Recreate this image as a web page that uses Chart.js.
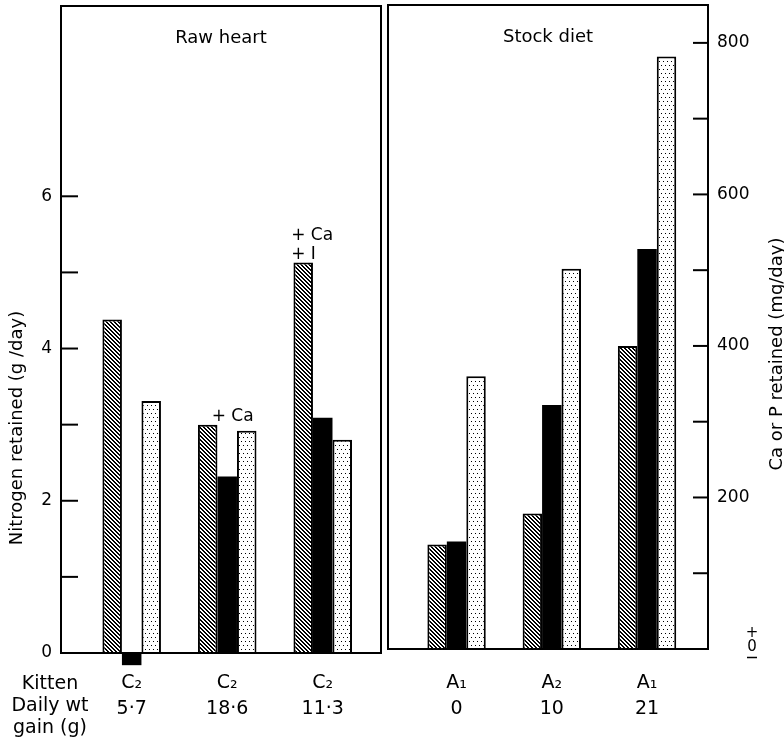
<!DOCTYPE html>
<html><head><meta charset="utf-8">
<script src="https://cdn.jsdelivr.net/npm/chart.js@4.4.1/dist/chart.umd.min.js"></script>
<style>
html,body{margin:0;padding:0;background:#fff;}
#wrap{position:relative;width:784px;height:739px;}
canvas{position:absolute;left:0;top:0;}
</style></head><body>
<div id="wrap"><canvas id="c1" width="784" height="739"></canvas><canvas id="c2" width="784" height="739"></canvas></div>
<script>
// ---- data ----
const panelTitles = ['Raw heart', 'Stock diet'];
const kittenLeft = ['C₂', 'C₂', 'C₂'];
const gainLeft = ['5·7', '18·6', '11·3'];
const kittenRight = ['A₁', 'A₂', 'A₁'];
const gainRight = ['0', '10', '21'];
const rowLabels = ['Kitten', 'Daily wt', 'gain (g)'];
// Nitrogen retained (g/day) - hatched bars
const nitrogenLeft = [4.38, 3.0, 5.13];
const nitrogenRight = [1.38, 1.79, 4.0];
// Ca retained (mg/day) - black bars
const calciumLeft = [-16, 232, 309];
const calciumRight = [142, 322, 528];
// P retained (mg/day) - dotted bars
const phosphorusLeft = [331, 292, 280];
const phosphorusRight = [360, 502, 782];
// axis ticks
const nTickValues = [0, 1, 2, 3, 4, 5, 6];
const nTickLabels = ['0', '', '2', '', '4', '', '6'];
const mgTickValues = [100, 200, 300, 400, 500, 600, 700, 800];
const mgTickLabels = ['', '200', '', '400', '', '600', '', '800'];
const axisTitles = ['Nitrogen retained (g /day)', 'Ca or P retained (mg/day)'];
// notes above the raw-heart groups
const notesLeft = [[], ['+ Ca'], ['+ Ca', '+ I']];
const noteShift = [0, 4, -12];

const FONT = "'DejaVu Sans', sans-serif";
Chart.defaults.font.family = FONT;
Chart.defaults.color = '#000';

function hatchPattern() {
  const c = document.createElement('canvas'); c.width = 4; c.height = 4;
  const g = c.getContext('2d');
  g.fillStyle = '#fff'; g.fillRect(0, 0, 4, 4);
  g.fillStyle = '#000';
  for (let i = 0; i < 4; i++) { g.fillRect(i, i, 1, 1); g.fillRect((i + 1) % 4, i, 1, 1); }
  return g.createPattern(c, 'repeat');
}
function dotPattern() {
  const c = document.createElement('canvas'); c.width = 4; c.height = 8;
  const g = c.getContext('2d');
  g.fillStyle = '#fff'; g.fillRect(0, 0, 4, 8);
  g.fillStyle = '#000'; g.fillRect(1, 1, 1, 1); g.fillRect(3, 5, 1, 1);
  return g.createPattern(c, 'repeat');
}
const HATCH = hatchPattern();
const DOTS = dotPattern();

const panelPlugin = {
  id: 'panel',
  afterDatasetsDraw(chart, args, opts) {
    const ctx = chart.ctx;
    const a = chart.chartArea;
    ctx.save();
    ctx.strokeStyle = '#000';
    ctx.lineWidth = 2;
    ctx.strokeRect(a.left, a.top, a.right - a.left, a.bottom - a.top);
    // inward tick marks of the visible y axis
    const ys = chart.scales[opts.axis];
    ys.ticks.forEach(t => {
      const py = ys.getPixelForValue(t.value);
      ctx.beginPath();
      if (opts.side === 'left') { ctx.moveTo(a.left, py); ctx.lineTo(a.left + 17, py); }
      else { ctx.moveTo(a.right, py); ctx.lineTo(a.right - 15, py); }
      ctx.stroke();
    });
    ctx.fillStyle = '#000';
    // panel title
    ctx.font = '18px ' + FONT;
    ctx.textAlign = 'center'; ctx.textBaseline = 'middle';
    ctx.fillText(opts.title, (a.left + a.right) / 2, a.top + 32);
    // notes over hatched bars
    if (opts.notes) {
      const meta = chart.getDatasetMeta(0);
      ctx.font = '17px ' + FONT;
      ctx.textAlign = 'left'; ctx.textBaseline = 'alphabetic';
      opts.notes.forEach((lines, i) => {
        const bar = meta.data[i];
        lines.forEach((s, k) => {
          const y = bar.y - 4 - (lines.length - 1 - k) * 19;
          ctx.fillText(s, bar.x + noteShift[i], y);
        });
      });
    }
    // axis title
    ctx.font = '18px ' + FONT;
    ctx.textAlign = 'center'; ctx.textBaseline = 'middle';
    ctx.save();
    ctx.translate(opts.titleX, opts.titleY);
    ctx.rotate(-Math.PI / 2);
    ctx.fillText(opts.axisTitle, 0, 0);
    ctx.restore();
    // row labels (left chart)
    if (opts.rows) {
      ctx.font = '19px ' + FONT;
      ctx.textAlign = 'center'; ctx.textBaseline = 'middle';
      opts.rows.forEach((s, i) => ctx.fillText(s, 50, 684 + i * 22));
    }
    // zero mark of the right axis
    if (opts.zeroMark) {
      ctx.font = '15px ' + FONT;
      ctx.textAlign = 'center'; ctx.textBaseline = 'middle';
      ctx.fillText('+', 752, 633);
      ctx.fillText('0', 752, 647);
      ctx.lineWidth = 1.5;
      ctx.beginPath(); ctx.moveTo(747, 657.5); ctx.lineTo(757, 657.5); ctx.stroke();
    }
    ctx.restore();
  }
};

function barSets(n, ca, p) {
  const common = { borderColor: '#000', borderWidth: 2, clip: false, borderSkipped: 'start' };
  return [
    Object.assign({ label: 'N', data: n, yAxisID: 'yN', backgroundColor: HATCH }, common),
    Object.assign({ label: 'Ca', data: ca, yAxisID: 'yM', backgroundColor: '#000' }, common, { borderWidth: 0 }),
    Object.assign({ label: 'P', data: p, yAxisID: 'yM', backgroundColor: DOTS }, common)
  ];
}

function xScale(cats, gains, min, max, height, pad) {
  return {
    type: 'linear', min: min, max: max, offset: false,
    grid: { display: false, drawTicks: false, offset: false }, border: { display: false },
    afterBuildTicks: s => { s.ticks = cats.map((_, i) => ({ value: i })); },
    afterFit: s => { s.height = height; s.paddingLeft = 0; s.paddingRight = 0; },
    ticks: {
      autoSkip: false, maxRotation: 0, padding: pad, color: '#000',
      font: { size: 19, lineHeight: 26 / 19 },
      callback: v => [cats[v], gains[v]]
    }
  };
}

function yFit(width) {
  return s => { s.width = width; s.paddingTop = 0; s.paddingBottom = 0; };
}

new Chart(document.getElementById('c1'), {
  type: 'bar',
  data: { labels: kittenLeft.map((_, i) => i), datasets: barSets(nitrogenLeft, calciumLeft, phosphorusLeft) },
  options: {
    responsive: false, animation: false,
    layout: { padding: { left: 0, top: 6, right: 403, bottom: 0 } },
    datasets: { bar: { barPercentage: 1, categoryPercentage: 0.613 } },
    plugins: {
      legend: { display: false }, tooltip: { enabled: false },
      panel: { side: 'left', axis: 'yN', title: panelTitles[0], notes: notesLeft,
               axisTitle: axisTitles[0], titleX: 17, titleY: 428, rows: rowLabels }
    },
    scales: {
      x: xScale(kittenLeft, gainLeft, -0.74, 2.61, 86, 17),
      yN: {
        position: 'left', min: 0, max: 8.5,
        afterBuildTicks: s => { s.ticks = nTickValues.map(v => ({ value: v })); },
        afterFit: yFit(61),
        grid: { display: false, drawTicks: false }, border: { display: false },
        ticks: { padding: 9, font: { size: 17 }, color: '#000',
                 callback: v => nTickLabels[nTickValues.indexOf(v)] }
      },
      yM: { display: false, min: 0, max: 850 }
    }
  },
  plugins: [panelPlugin]
});

new Chart(document.getElementById('c2'), {
  type: 'bar',
  data: { labels: kittenRight.map((_, i) => i), datasets: barSets(nitrogenRight, calciumRight, phosphorusRight) },
  options: {
    responsive: false, animation: false,
    layout: { padding: { left: 388, top: 5, right: 0, bottom: 0 } },
    datasets: { bar: { barPercentage: 1, categoryPercentage: 0.613 } },
    plugins: {
      legend: { display: false }, tooltip: { enabled: false },
      panel: { side: 'right', axis: 'yM', title: panelTitles[1],
               axisTitle: axisTitles[1], titleX: 777, titleY: 354, zeroMark: true }
    },
    scales: {
      x: xScale(kittenRight, gainRight, -0.72, 2.64, 90, 21),
      yM: {
        position: 'right', min: 0, max: 850,
        afterBuildTicks: s => { s.ticks = mgTickValues.map(v => ({ value: v })); },
        afterFit: yFit(76),
        grid: { display: false, drawTicks: false }, border: { display: false },
        ticks: { padding: 9, font: { size: 17 }, color: '#000',
                 callback: v => mgTickLabels[mgTickValues.indexOf(v)] }
      },
      yN: { display: false, min: 0, max: 8.5 }
    }
  },
  plugins: [panelPlugin]
});
</script>
</body></html>
